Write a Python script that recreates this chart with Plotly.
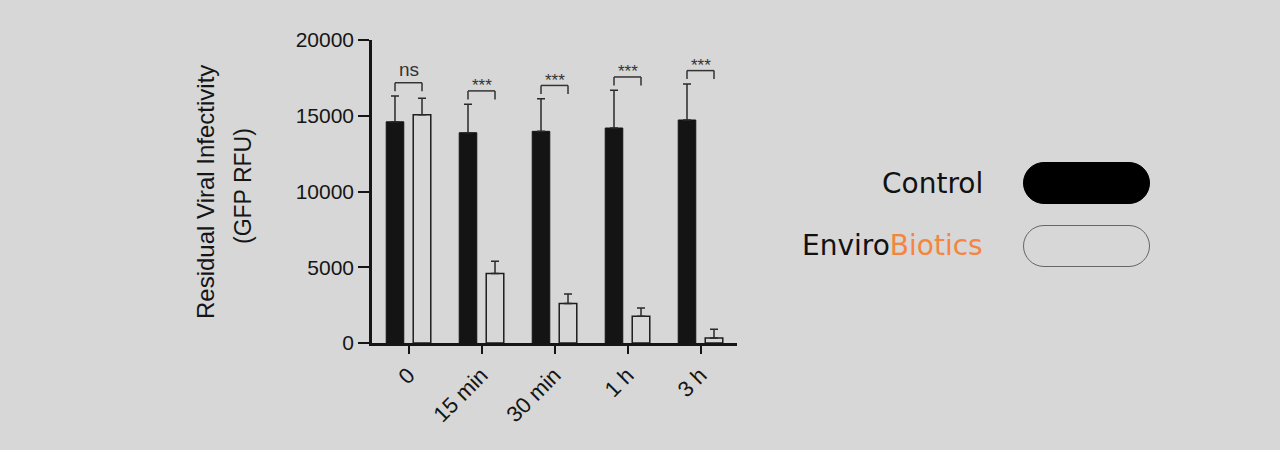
import plotly.graph_objects as go

# ---------------- data ----------------
categories = ["0", "15 min", "30 min", "1 h", "3 h"]
control_mean = [14600, 13880, 13970, 14190, 14720]
control_sd = [1700, 1880, 2150, 2490, 2380]
enviro_mean = [15070, 4580, 2600, 1760, 330]
enviro_sd = [1080, 810, 635, 550, 570]
significance = ["ns", "***", "***", "***", "***"]
y_ticks = [0, 5000, 10000, 15000, 20000]
legend_names = ["Control", "EnviroBiotics"]

# ---------------- layout constants ----------------
W, H = 1280, 450
ML, MR, MT, MB = 372, 543, 40, 107
BG = "#d7d7d7"
INK = "#151515"
ORANGE = "#f4853f"
BARGAP = 0.26
AXFONT = "Liberation Sans, Arial, sans-serif"

fig = go.Figure()
fig.add_trace(go.Bar(
    x=categories, y=control_mean, name=legend_names[0],
    marker=dict(color="#141414", line=dict(color="#141414", width=1)),
    error_y=dict(type="data", symmetric=False, array=control_sd,
                 arrayminus=[0] * len(control_sd), width=4, thickness=1.5, color="#2a2a2a"),
    showlegend=False,
))
fig.add_trace(go.Bar(
    x=categories, y=enviro_mean, name=legend_names[1],
    marker=dict(color="rgba(0,0,0,0)", line=dict(color="#1e1e1e", width=1.5)),
    error_y=dict(type="data", symmetric=False, array=enviro_sd,
                 arrayminus=[0] * len(enviro_sd), width=4, thickness=1.5, color="#2a2a2a"),
    showlegend=False,
))

shapes = []
annotations = []
off = (1 - BARGAP) / 4
leg = 560
for i, lab in enumerate(significance):
    top = max(control_mean[i] + control_sd[i], enviro_mean[i] + enviro_sd[i]) + 880
    x0, x1 = i - off, i + off
    for (a, b, c, d) in [(x0, top - leg, x0, top), (x0, top, x1, top), (x1, top, x1, top - leg)]:
        shapes.append(dict(type="line", xref="x", yref="y", x0=a, y0=b, x1=c, y1=d,
                           line=dict(color="#333333", width=1.5)))
    if lab == "ns":
        annotations.append(dict(x=i, y=top, xref="x", yref="y", text=lab, showarrow=False,
                                yanchor="middle", yshift=13,
                                font=dict(family=AXFONT, size=19, color="#333333")))
    else:
        annotations.append(dict(x=i, y=top, xref="x", yref="y", text=lab, showarrow=False,
                                yanchor="middle", yshift=5,
                                font=dict(family=AXFONT, size=17, color="#333333")))

PW = W - ML - MR
PH = H - MT - MB


def px_x(px):
    return (px - ML) / PW


def px_y(py):
    return 1 - (py - MT) / PH


# y-axis title (two rotated lines)
annotations.append(dict(x=px_x(205), y=px_y(192), xref="paper", yref="paper",
                        text="Residual Viral Infectivity", textangle=-90, showarrow=False,
                        xanchor="center", yanchor="middle",
                        font=dict(family=AXFONT, size=24, color=INK)))
annotations.append(dict(x=px_x(243), y=px_y(186), xref="paper", yref="paper",
                        text="(GFP RFU)", textangle=-90, showarrow=False,
                        xanchor="center", yanchor="middle",
                        font=dict(family=AXFONT, size=23, color=INK)))

# custom legend
LEGFONT = "DejaVu Sans, sans-serif"
annotations.append(dict(x=px_x(985), y=px_y(183), xref="paper", yref="paper",
                        text=legend_names[0], showarrow=False, xanchor="right", yanchor="middle",
                        font=dict(family=LEGFONT, size=28, color="#111111")))
annotations.append(dict(x=px_x(985), y=px_y(245), xref="paper", yref="paper",
                        text="Enviro<span style='color:%s'>Biotics</span>" % ORANGE,
                        showarrow=False, xanchor="right", yanchor="middle",
                        font=dict(family=LEGFONT, size=28, color="#111111")))


def pill_path(a, r):
    k = 0.5523 * r
    return (f"M {-a},{-r} L {a},{-r} "
            f"C {a + k},{-r} {a + r},{-k} {a + r},0 "
            f"C {a + r},{k} {a + k},{r} {a},{r} "
            f"L {-a},{r} "
            f"C {-a - k},{r} {-a - r},{k} {-a - r},0 "
            f"C {-a - r},{-k} {-a - k},{-r} {-a},{-r} Z")


shapes.append(dict(type="path", xref="paper", yref="paper", xsizemode="pixel", ysizemode="pixel",
                   xanchor=px_x(1086.5), yanchor=px_y(183), path=pill_path(42.5, 20.5),
                   fillcolor="#000000", line=dict(color="#000000", width=1)))
shapes.append(dict(type="path", xref="paper", yref="paper", xsizemode="pixel", ysizemode="pixel",
                   xanchor=px_x(1086.5), yanchor=px_y(246), path=pill_path(42.5, 20.5),
                   fillcolor="rgba(0,0,0,0)", line=dict(color="#666666", width=1)))

fig.update_layout(
    width=W, height=H,
    margin=dict(l=ML, r=MR, t=MT, b=MB, pad=0),
    paper_bgcolor=BG, plot_bgcolor=BG,
    barmode="group", bargap=BARGAP, bargroupgap=0.35,
    shapes=shapes, annotations=annotations,
    xaxis=dict(type="category", range=[-0.5, 4.5], showline=True, linecolor=INK, linewidth=2.5,
               ticks="outside", ticklen=8, tickwidth=2, tickcolor=INK, tickangle=-45,
               tickfont=dict(family=AXFONT, size=22, color=INK), showgrid=False, zeroline=False),
    yaxis=dict(range=[0, 20000], tickvals=y_ticks, tickformat="d", showline=True, linecolor=INK,
               linewidth=2.5, ticks="outside", ticklen=11, tickwidth=2, tickcolor=INK,
               tickfont=dict(family=AXFONT, size=21, color=INK), showgrid=False, zeroline=False),
)

fig.write_html("out.html", config={"displayModeBar": False},
               post_script="document.body.style.margin='0';document.body.style.background='%s';" % BG)
